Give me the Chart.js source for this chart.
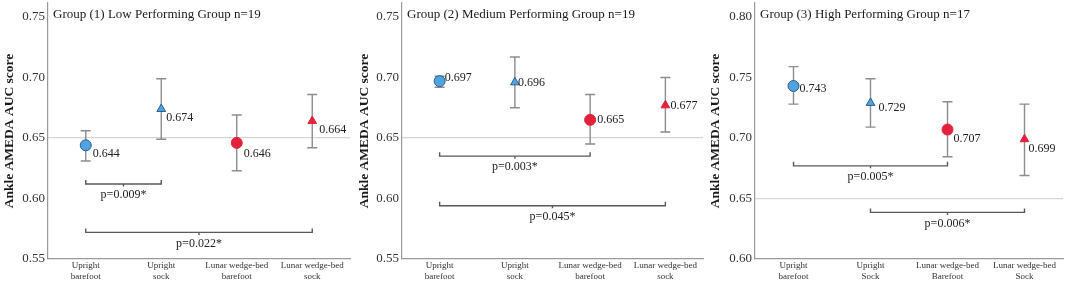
<!DOCTYPE html>
<html>
<head>
<meta charset="utf-8">
<script src="https://cdn.jsdelivr.net/npm/chart.js@4.4.1/dist/chart.umd.min.js"></script>
<style>
  html, body { margin: 0; padding: 0; background: #ffffff; }
  #wrap { position: relative; width: 1065px; height: 282px; overflow: hidden; background:#fff; }
  canvas { position: absolute; top: 0; }
</style>
</head>
<body>
<div id="wrap">
  <canvas id="c1" width="352" height="282" style="left:0px"></canvas>
  <canvas id="c2" width="351" height="282" style="left:355px"></canvas>
  <canvas id="c3" width="359" height="282" style="left:706px"></canvas>
</div>
<script>
// ---------------- DATA ----------------
const categoriesA = [['Upright','barefoot'],['Upright','sock'],['Lunar wedge-bed','barefoot'],['Lunar wedge-bed','sock']];
const categoriesB = [['Upright','barefoot'],['Upright','Sock'],['Lunar wedge-bed','Barefoot'],['Lunar wedge-bed','Sock']];

const titles = ['Group (1) Low Performing Group n=19','Group (2) Medium Performing Group n=19','Group (3) High Performing Group n=17'];
const yTitle = 'Ankle AMEDA AUC score';

const means1 = [0.644, 0.674, 0.646, 0.664];
const low1   = [0.631, 0.649, 0.623, 0.642];
const high1  = [0.656, 0.699, 0.669, 0.686];

const means2 = [0.697, 0.696, 0.665, 0.677];
const low2   = [0.692, 0.675, 0.645, 0.655];
const high2  = [0.701, 0.717, 0.686, 0.700];

const means3 = [0.743, 0.729, 0.707, 0.699];
const low3   = [0.728, 0.709, 0.6845, 0.669];
const high3  = [0.759, 0.749, 0.730, 0.728];

const ticks12 = [0.55, 0.60, 0.65, 0.70, 0.75];
const ticks3  = [0.60, 0.65, 0.70, 0.75, 0.80];

const brackets1 = [{from:0, to:1, y:0.612, label:'p=0.009*'}, {from:0, to:3, y:0.572, label:'p=0.022*'}];
const brackets2 = [{from:0, to:2, y:0.635, label:'p=0.003*'}, {from:0, to:3, y:0.594, label:'p=0.045*'}];
const brackets3 = [{from:0, to:2, y:0.677, label:'p=0.005*'}, {from:1, to:3, y:0.6385, label:'p=0.006*'}];

// ---------------- STYLE ----------------
const FONT = '"Liberation Serif", "Times New Roman", serif';
const BLUE = '#4fa3e0', BLUE_EDGE = '#2d5f8c', RED = '#e3213b';
const pointStyles = ['circle','triangle','circle','triangle'];
const pointColors = [BLUE, BLUE, RED, RED];
const pointEdges  = [BLUE_EDGE, BLUE_EDGE, RED, RED];
const pointRadii  = [5.5, 5, 5.5, 5];
// label offsets (pixels) relative to marker
const labelOffsets = [
  {dx:[7,5,7,7],  dy:[9,9,11,9]},
  {dx:[5,3,7,5],  dy:[-3,0,0,0]},
  {dx:[6,8,6,4],  dy:[3,5,9,10]}
];

function makePlugin(cfg){
  return {
    id: 'annot' + cfg.idx,
    beforeDatasetsDraw(chart){
      const ctx = chart.ctx, x = chart.scales.x, y = chart.scales.y;
      ctx.save();
      ctx.strokeStyle = '#8d8d8d';
      ctx.lineWidth = 1.4;
      cfg.low.forEach((lo, i) => {
        const px = x.getPixelForValue(i);
        const yl = y.getPixelForValue(lo), yh = y.getPixelForValue(cfg.high[i]);
        ctx.beginPath();
        ctx.moveTo(px, yl); ctx.lineTo(px, yh);
        ctx.moveTo(px - 5, yl); ctx.lineTo(px + 5, yl);
        ctx.moveTo(px - 5, yh); ctx.lineTo(px + 5, yh);
        ctx.stroke();
      });
      ctx.restore();
    },
    afterDatasetsDraw(chart){
      const ctx = chart.ctx, x = chart.scales.x, y = chart.scales.y, area = chart.chartArea;
      ctx.save();
      // title
      ctx.fillStyle = '#1a1a1a';
      ctx.font = '13px ' + FONT;
      ctx.textAlign = 'left';
      ctx.textBaseline = 'middle';
      ctx.fillText(cfg.title, area.left + 5, 15);
      // value labels
      ctx.font = '12px ' + FONT;
      ctx.fillStyle = '#222';
      const off = labelOffsets[cfg.idx];
      cfg.means.forEach((m, i) => {
        const px = x.getPixelForValue(i), py = y.getPixelForValue(m);
        ctx.fillText(m.toFixed(3), px + off.dx[i], py + off.dy[i]);
      });
      // brackets
      ctx.strokeStyle = '#5a5a5a';
      ctx.lineWidth = 1.4;
      ctx.textAlign = 'center';
      cfg.brackets.forEach(b => {
        const x1 = x.getPixelForValue(b.from), x2 = x.getPixelForValue(b.to);
        const by = y.getPixelForValue(b.y);
        const mid = (x1 + x2) / 2;
        ctx.beginPath();
        ctx.moveTo(x1, by - 4); ctx.lineTo(x1, by); ctx.lineTo(x2, by); ctx.lineTo(x2, by - 4);
        ctx.moveTo(mid, by); ctx.lineTo(mid, by + 2.5);
        ctx.stroke();
        ctx.fillStyle = '#222';
        ctx.fillText(b.label, mid, by + 11);
      });
      ctx.restore();
    }
  };
}

function makeChart(id, idx, cats, means, low, high, tickVals, yMin, yMax, yAxisW, padRight, brackets){
  const cfg = {idx, means, low, high, brackets, title: titles[idx]};
  return new Chart(document.getElementById(id), {
    type: 'line',
    data: {
      labels: cats,
      datasets: [{
        data: means,
        showLine: false,
        clip: false,
        pointStyle: pointStyles,
        pointRadius: pointRadii,
        pointHoverRadius: pointRadii,
        pointBackgroundColor: pointColors,
        pointBorderColor: pointEdges,
        pointBorderWidth: 1
      }]
    },
    options: {
      responsive: false,
      animation: false,
      devicePixelRatio: 1,
      layout: { autoPadding: false, padding: { top: 3, right: padRight, bottom: 0, left: 0 } },
      plugins: { legend: { display: false }, tooltip: { enabled: false } },
      scales: {
        x: {
          type: 'category',
          offset: true,
          grid: { display: false, drawTicks: false },
          border: { display: true, color: '#9a9a9a', width: 1.2 },
          ticks: { color: '#333', font: { family: FONT, size: 9, lineHeight: 1.2 }, padding: 1, maxRotation: 0, autoSkip: false },
          afterFit: s => { s.height = 23; s.paddingLeft = 0; s.paddingRight = 0; }
        },
        y: {
          min: yMin, max: yMax,
          afterBuildTicks: s => { s.ticks = tickVals.map(v => ({ value: v })); },
          grid: {
            drawTicks: false,
            color: c => (c.tick && Math.abs(c.tick.value - 0.65) < 1e-9) ? '#d6d6d6' : 'rgba(0,0,0,0)',
            lineWidth: 1.2
          },
          border: { display: true, color: '#9a9a9a', width: 1.2 },
          ticks: { color: '#333', font: { family: FONT, size: 13 }, padding: 3, callback: v => Number(v).toFixed(2) },
          title: { display: true, text: yTitle, color: '#1a1a1a', font: { family: FONT, size: 13.5, weight: 'bold' }, padding: { top: 1, bottom: 0 } },
          afterFit: s => { s.width = yAxisW; s.paddingTop = 0; s.paddingBottom = 0; }
        }
      }
    },
    plugins: [makePlugin(cfg)]
  });
}

makeChart('c1', 0, categoriesA, means1, low1, high1, ticks12, 0.55, 0.7616, 48, 2, brackets1);
makeChart('c2', 1, categoriesA, means2, low2, high2, ticks12, 0.55, 0.7616, 47, 3, brackets2);
makeChart('c3', 2, categoriesB, means3, low3, high3, ticks3, 0.60, 0.8116, 49, 2, brackets3);
</script>
</body>
</html>
